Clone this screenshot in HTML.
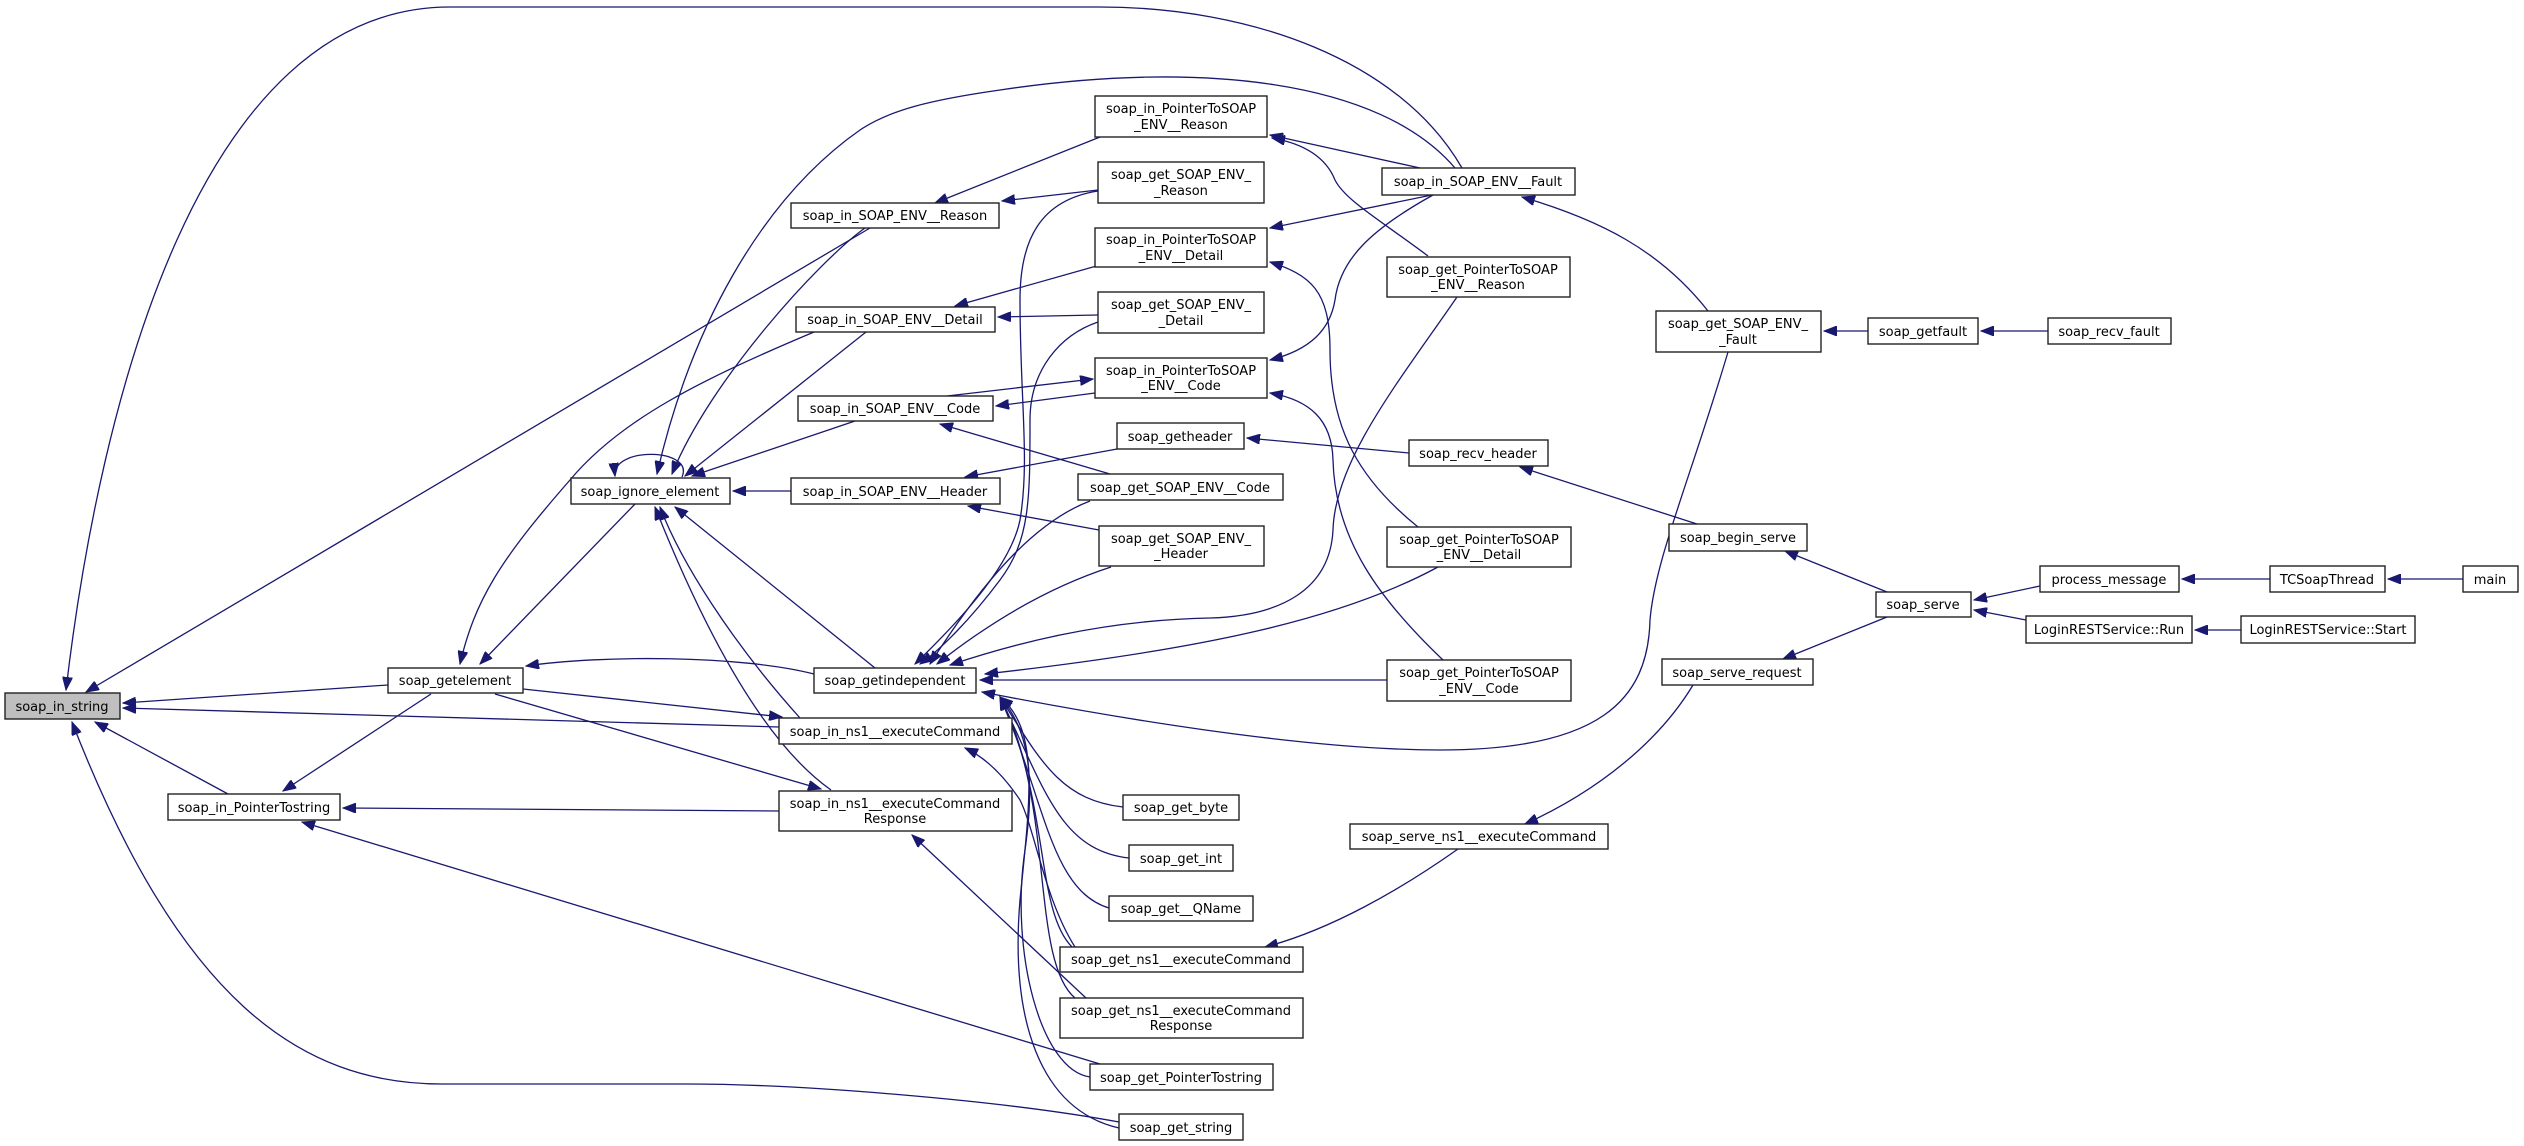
<!DOCTYPE html>
<html><head><meta charset="utf-8"><style>
html,body{margin:0;padding:0;background:#fff;}
svg{display:block;}
text{font-family:"DejaVu Sans","Liberation Sans",sans-serif;font-size:13px;fill:#000;text-anchor:middle;}
.n{fill:#fff;stroke:#222;stroke-width:1.4;}
.e{fill:none;stroke:#191970;stroke-width:1.3;marker-end:url(#ah);}
</style></head><body>
<svg width="2524" height="1146" viewBox="0 0 2524 1146" xmlns="http://www.w3.org/2000/svg">
<defs><marker id="ah" markerUnits="userSpaceOnUse" markerWidth="14" markerHeight="10" refX="13" refY="5" orient="auto"><path d="M0,0 L13,5 L0,10 z" fill="#191970" stroke="#191970"/></marker></defs>
<g>
<path class="e" d="M1462,168 C1400,60 1250,7 1100,7 L450,7 C200,7 100,400 66,690"/>
<path class="e" d="M1455,168 C1380,80 1200,60 1000,90 C930,100 890,110 860,130 C760,200 690,330 657,474"/>
<path class="e" d="M1420,168 L1270,135"/>
<path class="e" d="M1432,195 L1270,228"/>
<path class="e" d="M1433,195 C1370,230 1340,260 1335,300 C1330,330 1310,350 1270,360"/>
<path class="e" d="M1428,256 C1380,220 1345,200 1335,180 C1325,155 1300,143 1272,138"/>
<path class="e" d="M1457,297 C1400,380 1335,460 1333,530 C1330,590 1280,616 1210,618 C1100,620 1010,645 950,665"/>
<path class="e" d="M1418,527 C1360,480 1330,430 1330,350 C1330,290 1310,275 1270,262"/>
<path class="e" d="M1443,660 C1380,600 1335,540 1333,460 C1332,420 1310,400 1270,393"/>
<path class="e" d="M1438,567 C1340,620 1200,650 985,674"/>
<path class="e" d="M1387,680 L980,680"/>
<path class="e" d="M1708,311 C1660,250 1600,220 1522,197"/>
<path class="e" d="M1728,352 C1690,480 1655,560 1650,620 C1648,700 1600,750 1440,750 C1300,750 1100,715 982,692"/>
<path class="e" d="M1868,331 L1824,331"/>
<path class="e" d="M2048,331 L1981,331"/>
<path class="e" d="M2040,586 L1974,600"/>
<path class="e" d="M2026,620 L1974,610"/>
<path class="e" d="M2270,579 L2182,579"/>
<path class="e" d="M2463,579 L2388,579"/>
<path class="e" d="M2241,630 L2195,630"/>
<path class="e" d="M1887,592 L1785,551"/>
<path class="e" d="M1887,617 L1783,659"/>
<path class="e" d="M1697,524 L1520,467"/>
<path class="e" d="M1409,453 L1247,438"/>
<path class="e" d="M1693,685 C1660,740 1600,790 1525,824"/>
<path class="e" d="M1458,849 C1400,890 1330,930 1265,947"/>
<path class="e" d="M1098,190 L1002,201"/>
<path class="e" d="M1100,137 L935,203"/>
<path class="e" d="M1098,191 C1040,200 1020,240 1020,300 C1020,400 1030,460 1020,520 C1010,570 950,630 915,664"/>
<path class="e" d="M1098,315 L998,317"/>
<path class="e" d="M1100,265 L955,306"/>
<path class="e" d="M1098,322 C1060,335 1030,370 1030,420 C1030,500 1030,540 1000,580 C970,620 940,650 920,664"/>
<path class="e" d="M947,396 L1093,379"/>
<path class="e" d="M1095,393 L996,406"/>
<path class="e" d="M1110,474 L940,424"/>
<path class="e" d="M1090,501 C1040,520 990,570 930,664"/>
<path class="e" d="M1117,449 L965,477"/>
<path class="e" d="M1099,530 L968,506"/>
<path class="e" d="M1111,567 C1040,590 980,630 937,664"/>
<path class="e" d="M791,491 L733,491"/>
<path class="e" d="M682,477 C695,448 612,446 615,476"/>
<path class="e" d="M870,228 L86,692"/>
<path class="e" d="M865,228 C820,260 710,380 672,474"/>
<path class="e" d="M866,332 L685,476"/>
<path class="e" d="M814,332 C700,380 620,420 570,480 C500,560 475,600 460,664"/>
<path class="e" d="M855,421 L692,476"/>
<path class="e" d="M875,668 L675,507"/>
<path class="e" d="M635,504 L480,664"/>
<path class="e" d="M800,718 C730,640 680,560 660,507"/>
<path class="e" d="M831,790 C760,740 700,620 655,507"/>
<path class="e" d="M814,674 C740,655 600,655 526,666"/>
<path class="e" d="M388,685 L123,703"/>
<path class="e" d="M779,727 L123,708"/>
<path class="e" d="M228,794 L95,722"/>
<path class="e" d="M1119,1122 C1000,1100 800,1084 687,1084 L442,1084 C300,1084 180,1000 72,722"/>
<path class="e" d="M523,689 L782,717"/>
<path class="e" d="M495,694 L821,789"/>
<path class="e" d="M431,694 L283,791"/>
<path class="e" d="M779,811 L343,808"/>
<path class="e" d="M1100,1064 L302,822"/>
<path class="e" d="M1075,947 C1045,900 1035,830 1020,800 C1000,770 980,755 965,748"/>
<path class="e" d="M1086,998 L912,835"/>
<path class="e" d="M1123,807 C1060,800 1040,760 1000,697"/>
<path class="e" d="M1129,858 C1060,850 1045,790 1000,697"/>
<path class="e" d="M1109,908 C1050,890 1045,800 1000,697"/>
<path class="e" d="M1072,947 C1035,910 1050,800 1000,697"/>
<path class="e" d="M1075,998 C1030,960 1055,800 1000,697"/>
<path class="e" d="M1090,1077 C1040,1070 1010,950 1025,850 C1035,780 1030,730 1000,697"/>
<path class="e" d="M1119,1128 C1040,1110 1010,1020 1020,900 C1030,800 1040,730 1000,697"/>
</g>
<g>
<rect x="5" y="693" width="115" height="26" style="fill:#bfbfbf;stroke:#222;stroke-width:1.4"/><text x="62" y="711">soap_in_string</text>
<rect class="n" x="388" y="668" width="135" height="25"/><text x="455" y="685">soap_getelement</text>
<rect class="n" x="168" y="794" width="172" height="26"/><text x="254" y="812">soap_in_PointerTostring</text>
<rect class="n" x="571" y="478" width="159" height="26"/><text x="650" y="496">soap_ignore_element</text>
<rect class="n" x="791" y="203" width="208" height="25"/><text x="895" y="220">soap_in_SOAP_ENV__Reason</text>
<rect class="n" x="796" y="307" width="199" height="25"/><text x="895" y="324">soap_in_SOAP_ENV__Detail</text>
<rect class="n" x="798" y="396" width="195" height="25"/><text x="895" y="413">soap_in_SOAP_ENV__Code</text>
<rect class="n" x="791" y="478" width="209" height="26"/><text x="895" y="496">soap_in_SOAP_ENV__Header</text>
<rect class="n" x="814" y="668" width="162" height="25"/><text x="895" y="685">soap_getindependent</text>
<rect class="n" x="779" y="718" width="233" height="26"/><text x="895" y="736">soap_in_ns1__executeCommand</text>
<rect class="n" x="779" y="791" width="233" height="40"/><text x="895" y="808">soap_in_ns1__executeCommand</text><text x="895" y="823">Response</text>
<rect class="n" x="1095" y="96" width="172" height="41"/><text x="1181" y="113">soap_in_PointerToSOAP</text><text x="1181" y="129">_ENV__Reason</text>
<rect class="n" x="1098" y="162" width="166" height="41"/><text x="1181" y="179">soap_get_SOAP_ENV_</text><text x="1181" y="195">_Reason</text>
<rect class="n" x="1095" y="228" width="172" height="39"/><text x="1181" y="244">soap_in_PointerToSOAP</text><text x="1181" y="260">_ENV__Detail</text>
<rect class="n" x="1098" y="292" width="166" height="41"/><text x="1181" y="309">soap_get_SOAP_ENV_</text><text x="1181" y="325">_Detail</text>
<rect class="n" x="1095" y="358" width="172" height="40"/><text x="1181" y="375">soap_in_PointerToSOAP</text><text x="1181" y="390">_ENV__Code</text>
<rect class="n" x="1117" y="423" width="127" height="26"/><text x="1180" y="441">soap_getheader</text>
<rect class="n" x="1078" y="474" width="205" height="26"/><text x="1180" y="492">soap_get_SOAP_ENV__Code</text>
<rect class="n" x="1099" y="526" width="165" height="40"/><text x="1181" y="543">soap_get_SOAP_ENV_</text><text x="1181" y="558">_Header</text>
<rect class="n" x="1123" y="795" width="116" height="25"/><text x="1181" y="812">soap_get_byte</text>
<rect class="n" x="1129" y="845" width="104" height="26"/><text x="1181" y="863">soap_get_int</text>
<rect class="n" x="1109" y="896" width="144" height="25"/><text x="1181" y="913">soap_get__QName</text>
<rect class="n" x="1060" y="947" width="243" height="25"/><text x="1181" y="964">soap_get_ns1__executeCommand</text>
<rect class="n" x="1060" y="998" width="243" height="40"/><text x="1181" y="1015">soap_get_ns1__executeCommand</text><text x="1181" y="1030">Response</text>
<rect class="n" x="1090" y="1064" width="183" height="26"/><text x="1181" y="1082">soap_get_PointerTostring</text>
<rect class="n" x="1119" y="1114" width="124" height="26"/><text x="1181" y="1132">soap_get_string</text>
<rect class="n" x="1382" y="168" width="193" height="27"/><text x="1478" y="186">soap_in_SOAP_ENV__Fault</text>
<rect class="n" x="1387" y="257" width="183" height="40"/><text x="1478" y="274">soap_get_PointerToSOAP</text><text x="1478" y="289">_ENV__Reason</text>
<rect class="n" x="1387" y="527" width="184" height="40"/><text x="1479" y="544">soap_get_PointerToSOAP</text><text x="1479" y="559">_ENV__Detail</text>
<rect class="n" x="1387" y="660" width="184" height="41"/><text x="1479" y="677">soap_get_PointerToSOAP</text><text x="1479" y="693">_ENV__Code</text>
<rect class="n" x="1656" y="311" width="165" height="41"/><text x="1738" y="328">soap_get_SOAP_ENV_</text><text x="1738" y="344">_Fault</text>
<rect class="n" x="1868" y="318" width="110" height="26"/><text x="1923" y="336">soap_getfault</text>
<rect class="n" x="2048" y="318" width="123" height="26"/><text x="2109" y="336">soap_recv_fault</text>
<rect class="n" x="1409" y="440" width="139" height="26"/><text x="1478" y="458">soap_recv_header</text>
<rect class="n" x="1669" y="524" width="138" height="27"/><text x="1738" y="542">soap_begin_serve</text>
<rect class="n" x="1876" y="592" width="95" height="25"/><text x="1923" y="609">soap_serve</text>
<rect class="n" x="1662" y="659" width="151" height="26"/><text x="1737" y="677">soap_serve_request</text>
<rect class="n" x="1350" y="824" width="258" height="25"/><text x="1479" y="841">soap_serve_ns1__executeCommand</text>
<rect class="n" x="2040" y="566" width="139" height="26"/><text x="2109" y="584">process_message</text>
<rect class="n" x="2270" y="566" width="115" height="26"/><text x="2327" y="584">TCSoapThread</text>
<rect class="n" x="2463" y="566" width="55" height="26"/><text x="2490" y="584">main</text>
<rect class="n" x="2026" y="616" width="166" height="27"/><text x="2109" y="634">LoginRESTService::Run</text>
<rect class="n" x="2241" y="616" width="174" height="27"/><text x="2328" y="634">LoginRESTService::Start</text>
</g>
</svg>
</body></html>
